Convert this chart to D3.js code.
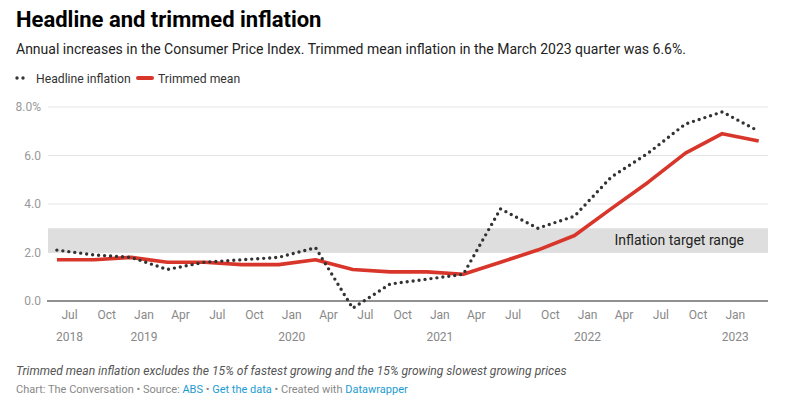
<!DOCTYPE html>
<html>
<head>
<meta charset="utf-8">
<script src="https://cdn.jsdelivr.net/npm/d3@7"></script>
<style>
  html, body { margin: 0; padding: 0; background: #fff; }
  svg { display: block; font-family: Roboto, "Noto Sans", sans-serif; }
</style>
</head>
<body>
<svg id="chart" width="806" height="412"></svg>
<script>
// ---- data ----
const quarters = ["2018-06","2018-09","2018-12","2019-03","2019-06","2019-09","2019-12","2020-03",
  "2020-06","2020-09","2020-12","2021-03","2021-06","2021-09","2021-12","2022-03",
  "2022-06","2022-09","2022-12","2023-03"];
const headline = [2.1,1.9,1.8,1.3,1.6,1.7,1.8,2.2,-0.3,0.7,0.9,1.1,3.8,3.0,3.5,5.1,6.1,7.3,7.8,7.0];
const trimmed  = [1.7,1.7,1.8,1.6,1.6,1.5,1.5,1.7,1.3,1.2,1.2,1.1,1.6,2.1,2.7,3.8,4.9,6.1,6.9,6.6];
const yTicks = [0, 2, 4, 6, 8];
const yTickLabels = ["0.0","2.0","4.0","6.0","8.0%"];
const xTickDates = ["2018-07","2018-10","2019-01","2019-04","2019-07","2019-10","2020-01","2020-04",
  "2020-07","2020-10","2021-01","2021-04","2021-07","2021-10","2022-01","2022-04","2022-07","2022-10","2023-01"];
const targetBand = [2, 3];
const bandLabel = "Inflation target range";

const parse = d3.timeParse("%Y-%m");
const svg = d3.select("#chart");

const x = d3.scaleTime()
  .domain([new Date(2018, 4, 10), new Date(2023, 2, 24)])
  .range([48, 768]);
const y = d3.scaleLinear().domain([0, 8]).range([301, 107]);

// ---- header ----
svg.append("text").attr("x", 16).attr("y", 27)
  .attr("font-size", 22).attr("font-weight", 700).attr("fill", "#000")
  .text("Headline and trimmed inflation");
svg.append("text").attr("x", 16).attr("y", 54)
  .attr("font-size", 14).attr("fill", "#222")
  .text("Annual increases in the Consumer Price Index. Trimmed mean inflation in the March 2023 quarter was 6.6%.");

// legend
const lg = svg.append("g");
lg.append("line").attr("x1", 17).attr("x2", 24).attr("y1", 78).attr("y2", 78)
  .attr("stroke", "#333").attr("stroke-width", 3.4).attr("stroke-linecap", "round")
  .attr("stroke-dasharray", "0 6");
lg.append("text").attr("x", 36).attr("y", 82.5).attr("font-size", 12.2).attr("fill", "#333")
  .text("Headline inflation");
lg.append("line").attr("x1", 138).attr("x2", 152).attr("y1", 78).attr("y2", 78)
  .attr("stroke", "#d8362b").attr("stroke-width", 4).attr("stroke-linecap", "round");
lg.append("text").attr("x", 158).attr("y", 82.5).attr("font-size", 12.2).attr("fill", "#333")
  .text("Trimmed mean");

// ---- gridlines & y axis ----
const yAxis = d3.axisLeft(y).tickValues(yTicks)
  .tickFormat((d, i) => yTickLabels[i]).tickSize(0).tickPadding(0);
const gy = svg.append("g").attr("transform", "translate(41,0)").call(yAxis);
gy.select(".domain").remove();
gy.selectAll("text").attr("font-size", 12).attr("fill", "#999").attr("font-family", "Roboto, sans-serif");

svg.append("g").selectAll("line").data(yTicks.filter(d => d !== 0)).join("line")
  .attr("x1", 48).attr("x2", 768)
  .attr("y1", d => y(d)).attr("y2", d => y(d))
  .attr("stroke", "#e5e5e5").attr("stroke-width", 1);

// target band
svg.append("rect").attr("x", 48).attr("width", 720)
  .attr("y", y(targetBand[1])).attr("height", y(targetBand[0]) - y(targetBand[1]))
  .attr("fill", "#dedede");
svg.append("text").attr("x", 744).attr("y", (y(2) + y(3)) / 2 + 5)
  .attr("text-anchor", "end").attr("font-size", 14).attr("fill", "#222")
  .text(bandLabel);

// baseline
svg.append("line").attr("x1", 47).attr("x2", 768).attr("y1", y(0)).attr("y2", y(0))
  .attr("stroke", "#222").attr("stroke-width", 1);

// ---- x axis ----
const xDates = xTickDates.map(parse);
const monthFmt = d3.timeFormat("%b");
const xAxis = d3.axisBottom(x).tickValues(xDates).tickSize(0).tickPadding(0)
  .tickFormat(d => monthFmt(d));
const gx = svg.append("g").attr("transform", "translate(0,315)").call(xAxis);
gx.select(".domain").remove();
gx.selectAll("text").attr("font-size", 12).attr("fill", "#888").attr("font-family", "Roboto, sans-serif")
  .attr("dy", "0.32em");
gx.selectAll(".tick").each(function(d, i) {
  if (i === 0 || d.getMonth() === 0) {
    d3.select(this).append("text").attr("y", 22).attr("dy", "0.32em")
      .attr("text-anchor", "middle").attr("font-size", 12).attr("fill", "#888")
      .attr("font-family", "Roboto, sans-serif")
      .text(d.getFullYear());
  }
});

// ---- lines ----
const dates = quarters.map(parse);
const line = d3.line().x(d => x(d[0])).y(d => y(d[1]));

svg.append("path").datum(dates.map((d, i) => [d, trimmed[i]]))
  .attr("d", line).attr("fill", "none")
  .attr("stroke", "#d8362b").attr("stroke-width", 3.6)
  .attr("stroke-linejoin", "round").attr("stroke-linecap", "butt");

svg.append("path").datum(dates.map((d, i) => [d, headline[i]]))
  .attr("d", line).attr("fill", "none")
  .attr("stroke", "#333").attr("stroke-width", 3.4)
  .attr("stroke-linecap", "round").attr("stroke-linejoin", "round")
  .attr("stroke-dasharray", "0 6");

// ---- footer ----
svg.append("text").attr("x", 16).attr("y", 375)
  .attr("font-size", 12.1).attr("font-style", "italic").attr("fill", "#555")
  .text("Trimmed mean inflation excludes the 15% of fastest growing and the 15% growing slowest growing prices");
const src = svg.append("text").attr("x", 16).attr("y", 393).attr("font-size", 11).attr("fill", "#888");
src.append("tspan").text("Chart: The Conversation • Source: ");
src.append("tspan").attr("fill", "#1d9bd1").text("ABS");
src.append("tspan").text(" • ");
src.append("tspan").attr("fill", "#1d9bd1").text("Get the data");
src.append("tspan").text(" • Created with ");
src.append("tspan").attr("fill", "#1d9bd1").text("Datawrapper");
</script>
</body>
</html>
